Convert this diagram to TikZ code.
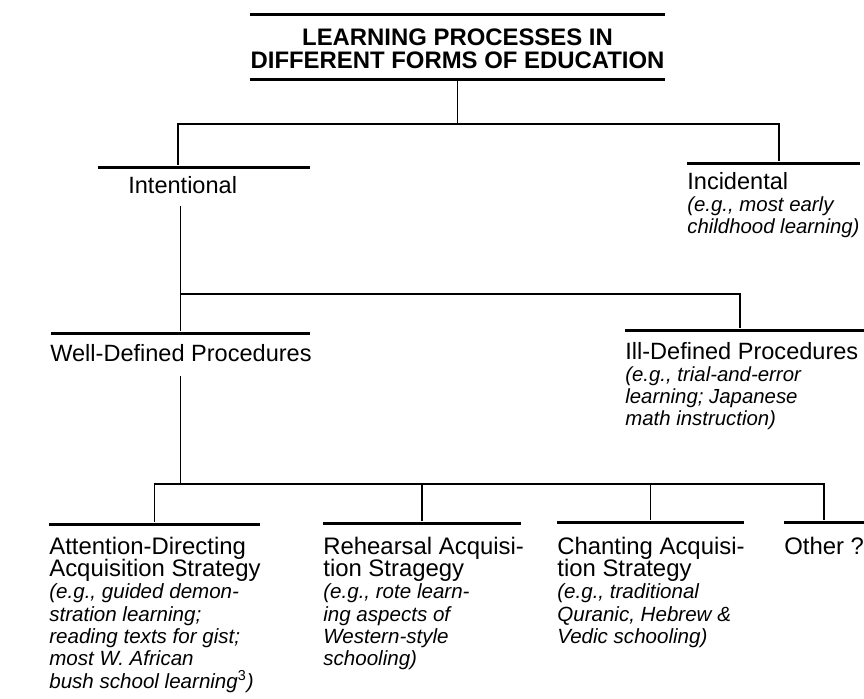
\documentclass[tikz,border=0pt]{standalone}
\usepackage{fontspec}
\setmainfont{Liberation Sans}
\newcommand\tstrut{\rule{0pt}{12pt}}
\newcommand\tightlines{\lineskiplimit=-20pt\relax}
\newcommand\eg[1]{{\itshape\fontsize{11.6}{12.5}\selectfont #1}}
\newcommand\egn[1]{{\itshape\fontsize{11.7}{12.7}\selectfont #1}}
\begin{document}
\begin{tikzpicture}[x=0.02cm, y=-0.02cm,
  bar/.style={fill=black, inner sep=0pt, minimum height=0.06cm},
  link/.style={draw=black, line width=0.9pt},
  head/.style={anchor=north west, inner sep=0pt, align=left, font=\fontsize{13.4}{12.5}\selectfont\tightlines},
  lowhead/.style={anchor=north west, inner sep=0pt, align=left, font=\fontsize{13.6}{12.7}\selectfont\tightlines},
  title/.style={anchor=north, inner sep=0pt, align=center, font=\fontsize{13.6}{13.1}\selectfont\bfseries\tightlines}]
\useasboundingbox (0,0) rectangle (864,698);
% title
\node[bar, minimum width=8.3cm] (ttop) at (457.5,14) {};
\node[title] (ttl) at (457.5,23.8) {\tstrut LEARNING PROCESSES IN\\DIFFERENT FORMS OF EDUCATION};
\node[bar, minimum width=8.3cm] (tbot) at (457.5,79) {};
% first level
\node[bar, minimum width=4.24cm] (bint) at (204,167) {};
\node[head] (int) at (128,171.8) {\tstrut Intentional};
\node[bar, minimum width=3.46cm] (binc) at (773.5,163) {};
\node[head] (inc) at (687,167.8) {\tstrut Incidental\\\eg{(e.g., most early}\\\eg{childhood learning)}};
% second level
\node[bar, minimum width=5.18cm] (bwell) at (180.5,333) {};
\node[head] (wd) at (50,339.8) {\tstrut Well-Defined Procedures};
\node[bar, minimum width=4.78cm] (bill) at (744.5,330) {};
\node[head] (ild) at (625,337.8) {\tstrut Ill-Defined Procedures\\\eg{(e.g., trial-and-error}\\\eg{learning; Japanese}\\\eg{math instruction)}};
% third level
\node[bar, minimum width=4.22cm] (bads) at (154.5,524) {};
\node[lowhead] (ads) at (49,532.8) {\tstrut Attention-Directing\\Acquisition Strategy\\\egn{(e.g., guided demon-}\\\egn{stration learning;}\\\egn{reading texts for gist;}\\\egn{most W. African}\\\egn{bush school learning\textsuperscript{\upshape 3})}};
\node[bar, minimum width=3.96cm] (breh) at (422,523) {};
\node[lowhead] (reh) at (323,532.8) {\tstrut Rehearsal Acquisi-\\tion Stragegy\\\egn{(e.g., rote learn-}\\\egn{ing aspects of}\\\egn{Western-style}\\\egn{schooling)}};
\node[bar, minimum width=3.74cm] (bcha) at (650.5,522) {};
\node[lowhead] (cha) at (557,532.8) {\tstrut Chanting Acquisi-\\tion Strategy\\\egn{(e.g., traditional}\\\egn{Quranic, Hebrew \&}\\\egn{Vedic schooling)}};
\node[bar, minimum width=1.6cm] (both) at (824,522) {};
\node[lowhead] (oth) at (784,532.8) {\tstrut Other ?};
% connectors
\coordinate (j1) at (457.5,124);
\coordinate (j2) at (180.5,294);
\coordinate (j3) at (180.5,484);
\draw[link] (tbot.south) -- (j1);
\draw[link] ([xshift=-0.52cm]bint.north) |- (j1) -| ([xshift=0.11cm]binc.north);
\draw[link] (int.south -| bwell.north) ++(0,12) -- (bwell.north);
\draw[link] (j2) -| ([xshift=-0.09cm]bill.north);
\draw[link] (wd.south -| j3) ++(0,14) -- (j3);
\draw[link] (bads.north) |- (j3) -| (both.north);
\draw[link] (breh.north) -- (breh.north |- j3);
\draw[link] (bcha.north) -- (bcha.north |- j3);
\end{tikzpicture}
\end{document}
